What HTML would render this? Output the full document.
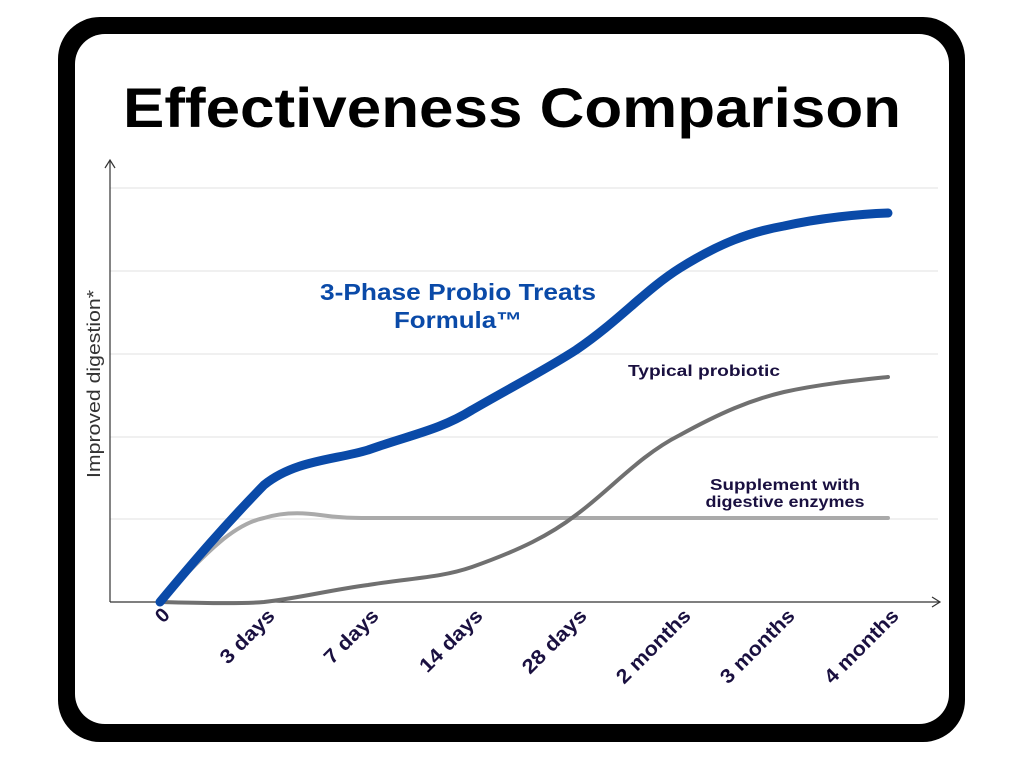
<!DOCTYPE html>
<html><head><style>
body{margin:0;background:#fff;}
svg{display:block;font-family:"Liberation Sans",sans-serif;}
</style></head><body>
<svg width="1024" height="768" viewBox="0 0 1024 768">
<rect x="0" y="0" width="1024" height="768" fill="#fff"/>
<rect x="58" y="17" width="907" height="725" rx="42" fill="#000"/>
<rect x="75" y="34" width="874" height="690" rx="30" fill="#fff"/>
<text x="512" y="127" text-anchor="middle" font-size="56" font-weight="bold" fill="#000" textLength="778" lengthAdjust="spacingAndGlyphs">Effectiveness Comparison</text>
<g stroke="#e6e6e6" stroke-width="1.2">
<line x1="110" y1="188" x2="938" y2="188"/>
<line x1="110" y1="271" x2="938" y2="271"/>
<line x1="110" y1="354" x2="938" y2="354"/>
<line x1="110" y1="437" x2="938" y2="437"/>
<line x1="110" y1="519" x2="938" y2="519"/>
</g>
<g stroke="#333" stroke-width="1.2" fill="none">
<line x1="110" y1="602" x2="110" y2="160"/>
<polyline points="105,168 110,160 115,168"/>
<line x1="110" y1="602" x2="940" y2="602"/>
<polyline points="932,597 940,602 932,607"/>
</g>
<text transform="translate(100,384) rotate(-90)" text-anchor="middle" font-size="18" fill="#333" textLength="188" lengthAdjust="spacingAndGlyphs">Improved digestion*</text>
<path d="M160,602 C200,560 230,525 264,518 C280,513 300,512 320,515 C340,518 355,518 368,518 L888,518" fill="none" stroke="#aaa" stroke-width="4" stroke-linecap="round"/>
<path d="M160,602 C200,603 240,604 264,602 C300,598 330,590 368,585 C410,578 440,578 472,567 C520,550 550,535 576,515 C610,490 640,455 680,435 C720,413 750,400 784,392 C820,384 860,380 888,377" fill="none" stroke="#707070" stroke-width="4" stroke-linecap="round"/>
<path d="M160,602 C195,560 225,525 264,485 C295,460 335,460 368,450 C410,435 440,430 472,410 C510,388 545,370 576,350 C620,320 645,290 680,268 C720,243 750,232 784,226 C820,218 860,214 888,213" fill="none" stroke="#0a4aa8" stroke-width="9" stroke-linecap="round"/>
<g font-weight="bold" text-anchor="middle" fill="#0a4aa8" font-size="23">
<text x="458" y="300" textLength="276" lengthAdjust="spacingAndGlyphs">3-Phase Probio Treats</text>
<text x="458" y="328" textLength="128" lengthAdjust="spacingAndGlyphs">Formula™</text>
</g>
<text x="628" y="376" font-size="16" font-weight="bold" fill="#1a1040" textLength="152" lengthAdjust="spacingAndGlyphs">Typical probiotic</text>
<g font-size="16" font-weight="bold" fill="#1a1040" text-anchor="middle">
<text x="785" y="490" textLength="150" lengthAdjust="spacingAndGlyphs">Supplement with</text>
<text x="785" y="507" textLength="159" lengthAdjust="spacingAndGlyphs">digestive enzymes</text>
</g>
<g font-size="20" font-weight="bold" fill="#1a1040" text-anchor="end">
<text transform="translate(171,616) rotate(-45)" textLength="14">0</text>
<text transform="translate(276,617) rotate(-45)" textLength="68" lengthAdjust="spacingAndGlyphs">3 days</text>
<text transform="translate(380,617) rotate(-45)" textLength="68" lengthAdjust="spacingAndGlyphs">7 days</text>
<text transform="translate(484,617) rotate(-45)" textLength="80" lengthAdjust="spacingAndGlyphs">14 days</text>
<text transform="translate(588,617) rotate(-45)" textLength="82" lengthAdjust="spacingAndGlyphs">28 days</text>
<text transform="translate(692,617) rotate(-45)" textLength="96" lengthAdjust="spacingAndGlyphs">2 months</text>
<text transform="translate(796,617) rotate(-45)" textLength="96" lengthAdjust="spacingAndGlyphs">3 months</text>
<text transform="translate(900,617) rotate(-45)" textLength="96" lengthAdjust="spacingAndGlyphs">4 months</text>
</g>
</svg>
</body></html>
